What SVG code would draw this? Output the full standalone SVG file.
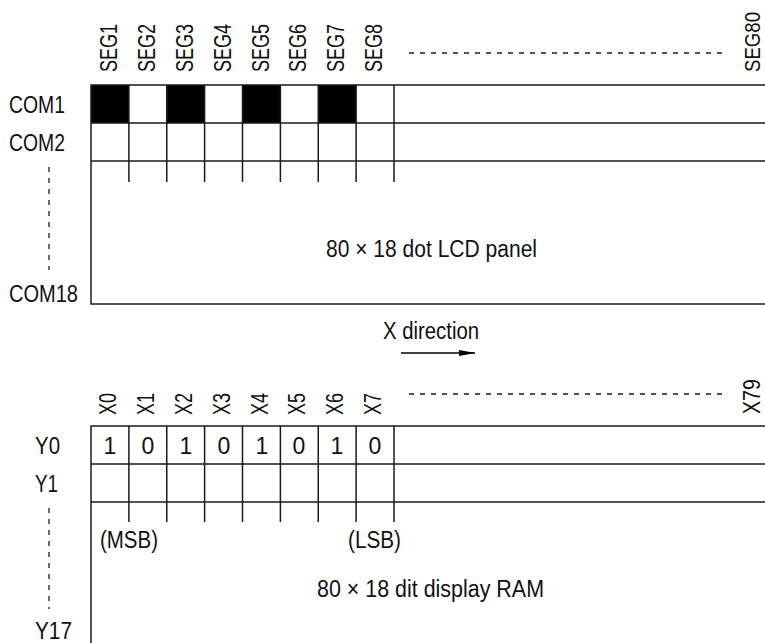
<svg xmlns="http://www.w3.org/2000/svg" width="765" height="643" viewBox="0 0 765 643">
<style>
  text { font-family: "Liberation Sans", Arial, sans-serif; font-size: 23px; fill: #111; }
  .ln { stroke: #1a1a1a; stroke-width: 1.5; fill: none; }
  .dash { stroke: #1a1a1a; stroke-width: 1.3; stroke-dasharray: 5 6; fill: none; }
  .blk { fill: #000; }
  .mid { text-anchor: middle; }
</style>
<defs>
  <marker id="ah" markerWidth="16" markerHeight="8" refX="16" refY="4" orient="auto" markerUnits="userSpaceOnUse">
    <path d="M0,1 L16,4 L0,7 Z" fill="#000"/>
  </marker>
</defs>
<rect width="765" height="643" fill="#fff"/>

<g id="lcd-panel">
  <rect class="blk" x="91" y="85" width="37.9" height="38"/>
  <rect class="blk" x="166.75" y="85" width="37.9" height="38"/>
  <rect class="blk" x="242.5" y="85" width="37.9" height="38"/>
  <rect class="blk" x="318.25" y="85" width="37.9" height="38"/>
  <path class="ln" d="M91,85 H766 M91,123 H766 M91,161 H766 M91,304 H766 M91,84.25 V304.75"/>
  <path class="ln" d="M128.9,85 V182 M166.75,85 V182 M204.6,85 V182 M242.5,85 V182 M280.4,85 V182 M318.25,85 V182 M356.1,85 V182 M394,85 V182"/>
  <text class="mid" x="431.5" y="257" textLength="211" lengthAdjust="spacingAndGlyphs">80 × 18 dot LCD panel</text>
</g>

<g id="seg-labels">
  <text transform="translate(117,72) rotate(-90)" textLength="48" lengthAdjust="spacingAndGlyphs">SEG1</text>
  <text transform="translate(155,72) rotate(-90)" textLength="48" lengthAdjust="spacingAndGlyphs">SEG2</text>
  <text transform="translate(193,72) rotate(-90)" textLength="48" lengthAdjust="spacingAndGlyphs">SEG3</text>
  <text transform="translate(231,72) rotate(-90)" textLength="48" lengthAdjust="spacingAndGlyphs">SEG4</text>
  <text transform="translate(269,72) rotate(-90)" textLength="48" lengthAdjust="spacingAndGlyphs">SEG5</text>
  <text transform="translate(306,72) rotate(-90)" textLength="48" lengthAdjust="spacingAndGlyphs">SEG6</text>
  <text transform="translate(344,72) rotate(-90)" textLength="48" lengthAdjust="spacingAndGlyphs">SEG7</text>
  <text transform="translate(382,72) rotate(-90)" textLength="48" lengthAdjust="spacingAndGlyphs">SEG8</text>
  <text transform="translate(760,72) rotate(-90) scale(1,1.2)" style="font-size:18.5px" textLength="60" lengthAdjust="spacingAndGlyphs">SEG80</text>
  <line class="dash" x1="409" y1="53" x2="724" y2="53"/>
</g>

<g id="com-labels">
  <text x="9" y="113" textLength="56" lengthAdjust="spacingAndGlyphs">COM1</text>
  <text x="9" y="151" textLength="56" lengthAdjust="spacingAndGlyphs">COM2</text>
  <text x="9" y="302" textLength="69" lengthAdjust="spacingAndGlyphs">COM18</text>
  <line class="dash" x1="49" y1="167" x2="49" y2="270"/>
</g>

<g id="connectors">
  <text x="383" y="339" textLength="96" lengthAdjust="spacingAndGlyphs">X direction</text>
  <line x1="401" y1="353" x2="475" y2="353" stroke="#000" stroke-width="1.5" marker-end="url(#ah)"/>
</g>

<g id="display-ram">
  <path class="ln" d="M91,426 H766 M91,464 H766 M91,502 H766 M91,425.25 V644"/>
  <path class="ln" d="M128.9,426 V522 M166.75,426 V522 M204.6,426 V522 M242.5,426 V522 M280.4,426 V522 M318.25,426 V522 M356.1,426 V522 M394,426 V522"/>
  <text class="mid" x="110" y="454">1</text>
  <text class="mid" x="148" y="454">0</text>
  <text class="mid" x="186" y="454">1</text>
  <text class="mid" x="224" y="454">0</text>
  <text class="mid" x="262" y="454">1</text>
  <text class="mid" x="299" y="454">0</text>
  <text class="mid" x="337" y="454">1</text>
  <text class="mid" x="375" y="454">0</text>
  <text x="100" y="548" textLength="58" lengthAdjust="spacingAndGlyphs">(MSB)</text>
  <text x="348" y="548" textLength="53" lengthAdjust="spacingAndGlyphs">(LSB)</text>
  <text class="mid" x="430.5" y="597" textLength="227" lengthAdjust="spacingAndGlyphs">80 × 18 dit display RAM</text>
</g>

<g id="x-labels">
  <text transform="translate(116,415) rotate(-90)" textLength="22" lengthAdjust="spacingAndGlyphs">X0</text>
  <text transform="translate(154,415) rotate(-90)" textLength="22" lengthAdjust="spacingAndGlyphs">X1</text>
  <text transform="translate(192,415) rotate(-90)" textLength="22" lengthAdjust="spacingAndGlyphs">X2</text>
  <text transform="translate(230,415) rotate(-90)" textLength="22" lengthAdjust="spacingAndGlyphs">X3</text>
  <text transform="translate(268,415) rotate(-90)" textLength="22" lengthAdjust="spacingAndGlyphs">X4</text>
  <text transform="translate(305,415) rotate(-90)" textLength="22" lengthAdjust="spacingAndGlyphs">X5</text>
  <text transform="translate(343,415) rotate(-90)" textLength="22" lengthAdjust="spacingAndGlyphs">X6</text>
  <text transform="translate(381,415) rotate(-90)" textLength="22" lengthAdjust="spacingAndGlyphs">X7</text>
  <text transform="translate(760,414) rotate(-90)" textLength="35" lengthAdjust="spacingAndGlyphs">X79</text>
  <line class="dash" x1="409" y1="394" x2="724" y2="394"/>
</g>

<g id="y-labels">
  <text x="35" y="454" textLength="25" lengthAdjust="spacingAndGlyphs">Y0</text>
  <text x="35" y="492" textLength="23" lengthAdjust="spacingAndGlyphs">Y1</text>
  <text x="35" y="639" textLength="37" lengthAdjust="spacingAndGlyphs">Y17</text>
  <line class="dash" x1="49" y1="508" x2="49" y2="609"/>
</g>
</svg>
